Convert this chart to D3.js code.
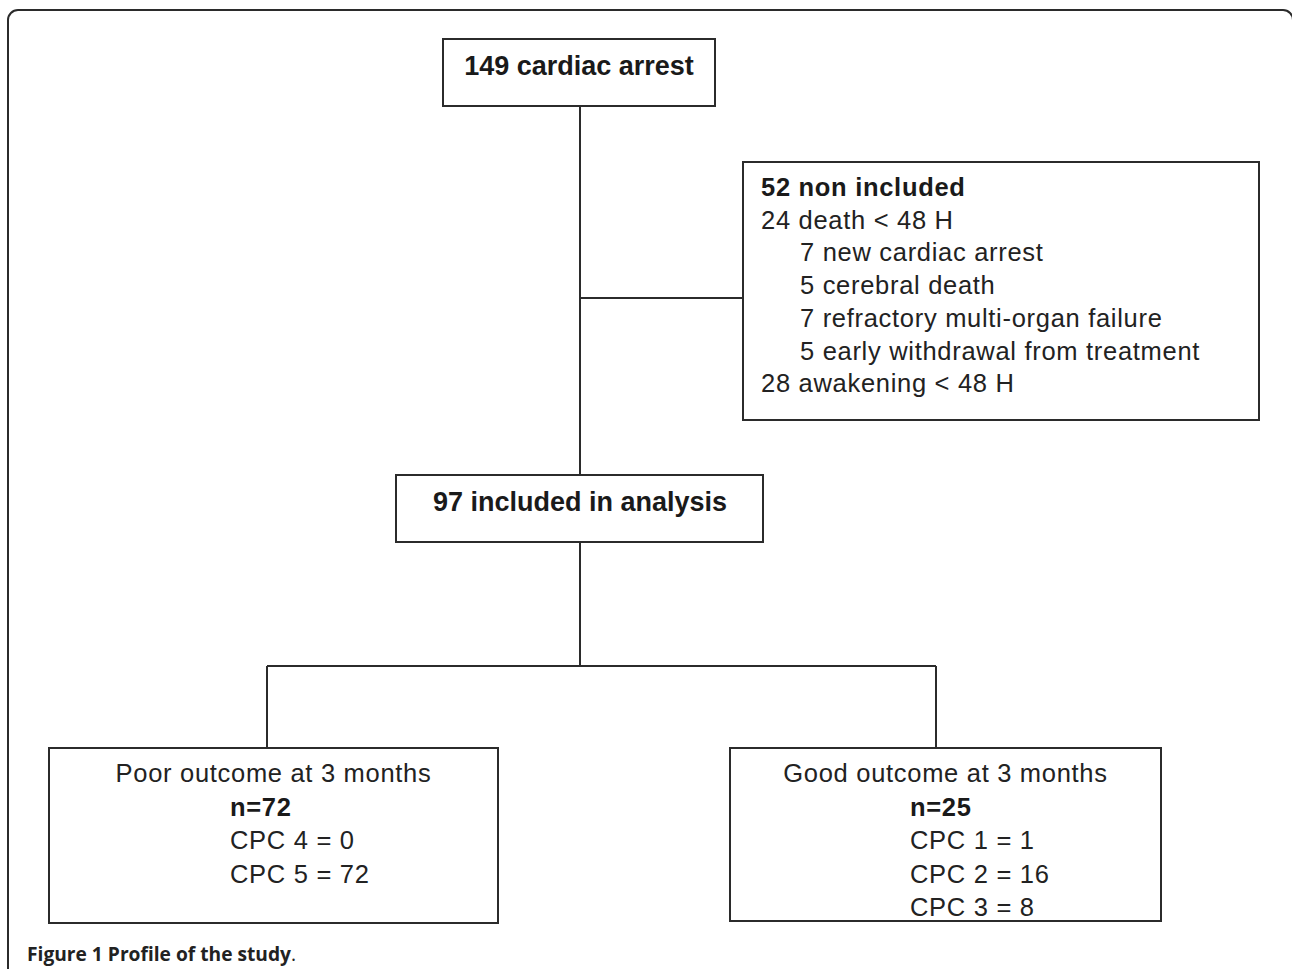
<!DOCTYPE html>
<html lang="en">
<head>
  <meta charset="utf-8">
  <title>Figure 1 Profile of the study</title>
  <script src="https://cdn.jsdelivr.net/npm/d3@7/dist/d3.min.js"></script>
  <style>
    body { margin: 0; background: #fff; }
    svg { display: block; }
    .box { fill: #fff; stroke: #2b2b2b; stroke-width: 2; }
    .link { stroke: #2b2b2b; stroke-width: 2; fill: none; }
    .frame { fill: none; stroke: #2b2b2b; stroke-width: 2; }
    .lbl { font-family: "Liberation Sans", Arial, sans-serif; fill: #1a1a1a; }
    .big { font-size: 27px; font-weight: bold; }
    .reg { font-size: 25.5px; letter-spacing: 0.7px; fill: #222; }
    .regb { font-size: 25.5px; letter-spacing: 0.7px; font-weight: bold; }
    .cap { font-family: "Open Sans", "Noto Sans", sans-serif; font-size: 19.2px; fill: #222; }
  </style>
</head>
<body>
<svg id="chart" width="1292" height="969"></svg>
<script>
  // flowchart content
  const rootLabel = "149 cardiac arrest";
  const excludedTitle = "52 non included";
  const excludedItems = [
    "24 death < 48 H",
    "7 new cardiac arrest",
    "5 cerebral death",
    "7 refractory multi-organ failure",
    "5 early withdrawal from treatment",
    "28 awakening < 48 H"
  ];
  const excludedLevels = [0, 1, 1, 1, 1, 0];
  const includedLabel = "97 included in analysis";
  const outcomeTitles = ["Poor outcome at 3 months", "Good outcome at 3 months"];
  const outcomeCounts = ["n=72", "n=25"];
  const outcomeDetails = [
    ["CPC 4 = 0", "CPC 5 = 72"],
    ["CPC 1 = 1", "CPC 2 = 16", "CPC 3 = 8"]
  ];
  const captionParts = ["Figure 1", " Profile of the study", "."];

  const svg = d3.select("#chart");

  // outer frame (bottom and right run off the page)
  svg.append("rect").attr("class", "frame")
    .attr("x", 8).attr("y", 10)
    .attr("width", 1285).attr("height", 1000)
    .attr("rx", 10).attr("ry", 10);

  // box geometry
  const boxes = {
    root:     { x: 443, y: 39,  w: 272, h: 67 },
    excluded: { x: 743, y: 162, w: 516, h: 258 },
    included: { x: 396, y: 475, w: 367, h: 67 },
    poor:     { x: 49,  y: 748, w: 449, h: 175 },
    good:     { x: 730, y: 748, w: 431, h: 173 }
  };
  const trunkX = 580, branchY = 298, splitY = 666;
  const dropX = [267, 936];

  // connectors
  const links = [
    [[trunkX, boxes.root.y + boxes.root.h], [trunkX, boxes.included.y]],
    [[trunkX, branchY], [boxes.excluded.x, branchY]],
    [[trunkX, boxes.included.y + boxes.included.h], [trunkX, splitY]],
    [[dropX[0], splitY], [dropX[1], splitY]],
    [[dropX[0], splitY], [dropX[0], boxes.poor.y]],
    [[dropX[1], splitY], [dropX[1], boxes.good.y]]
  ];
  svg.append("g").selectAll("path")
    .data(links)
    .join("path")
      .attr("class", "link")
      .attr("d", d3.line());

  // boxes
  svg.append("g").selectAll("rect")
    .data(Object.values(boxes))
    .join("rect")
      .attr("class", "box")
      .attr("x", d => d.x).attr("y", d => d.y)
      .attr("width", d => d.w).attr("height", d => d.h);

  // headline boxes
  svg.append("text").attr("class", "lbl big")
    .attr("x", boxes.root.x + boxes.root.w / 2).attr("y", 75)
    .attr("text-anchor", "middle").text(rootLabel);
  svg.append("text").attr("class", "lbl big")
    .attr("x", trunkX).attr("y", 511)
    .attr("text-anchor", "middle").text(includedLabel);

  // exclusion list
  const exY = d3.scaleLinear().domain([0, 1]).range([196, 228.7]);
  const indent = d3.scaleOrdinal().domain([0, 1]).range([761, 800]);
  svg.append("text").attr("class", "lbl regb")
    .attr("x", indent(0)).attr("y", exY(0)).text(excludedTitle);
  svg.append("g").selectAll("text")
    .data(excludedItems)
    .join("text")
      .attr("class", "lbl reg")
      .attr("x", (d, i) => indent(excludedLevels[i]))
      .attr("y", (d, i) => exY(i + 1))
      .text(d => d);

  // outcome boxes
  const outY = d3.scaleLinear().domain([0, 1]).range([782, 815.5]);
  const outBoxes = [boxes.poor, boxes.good];
  const detailX = [230, 910];
  outBoxes.forEach((b, k) => {
    const g = svg.append("g");
    g.append("text").attr("class", "lbl reg")
      .attr("x", b.x + b.w / 2).attr("y", outY(0))
      .attr("text-anchor", "middle").text(outcomeTitles[k]);
    g.append("text").attr("class", "lbl regb")
      .attr("x", detailX[k]).attr("y", outY(1)).text(outcomeCounts[k]);
    g.selectAll("text.det")
      .data(outcomeDetails[k])
      .join("text")
        .attr("class", "lbl reg det")
        .attr("x", detailX[k])
        .attr("y", (d, i) => outY(i + 2))
        .text(d => d);
  });

  // caption
  const cap = svg.append("text").attr("class", "cap").attr("x", 27).attr("y", 961);
  cap.append("tspan").attr("font-weight", 700).text(captionParts[0]);
  cap.append("tspan").attr("font-weight", 700).text(captionParts[1]);
  cap.append("tspan").attr("font-weight", 400).text(captionParts[2]);
</script>
</body>
</html>
